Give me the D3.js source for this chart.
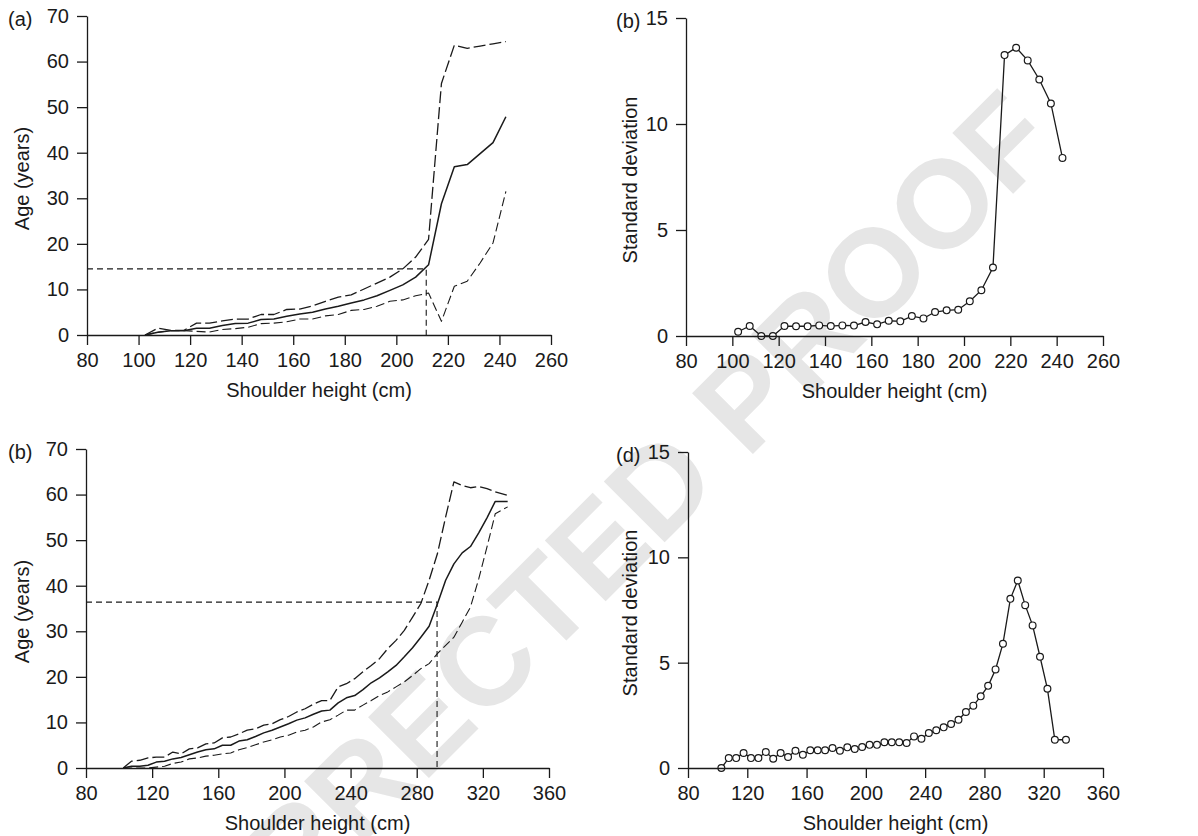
<!DOCTYPE html>
<html>
<head>
<meta charset="utf-8">
<script src="https://cdn.jsdelivr.net/npm/d3@7"></script>
<style>
	body { margin: 0; background: #fff; }
	svg { display: block; }
</style>
</head>
<body>
<script>
"use strict";

// shoulder height bins (cm) for the top row, (a) and (b)
var heightsTop = [102.5, 107.5, 112.5, 117.5, 122.5, 127.5, 132.5, 137.5, 142.5, 147.5,
	152.5, 157.5, 162.5, 167.5, 172.5, 177.5, 182.5, 187.5, 192.5, 197.5,
	202.5, 207.5, 212.5, 217.5, 222.5, 227.5, 232.5, 237.5, 242.5];

var ageMeanTop  = [0, 0.6, 0.95, 0.95, 1.5, 1.5, 2.1, 2.5, 2.6, 3.4,
	3.5, 4.1, 4.6, 5.0, 5.7, 6.3, 7.0, 7.7, 8.6, 9.8,
	11.0, 12.7, 15.4, 28.8, 36.9, 37.4, 39.8, 42.2, 47.9];
var ageUpperTop = [0, 1.5, 1.0, 1.0, 2.6, 2.6, 3.1, 3.5, 3.5, 4.5,
	4.5, 5.6, 5.7, 6.4, 7.4, 8.3, 8.8, 10.1, 11.4, 12.7,
	14.5, 17.1, 21.0, 55.2, 63.6, 62.9, 63.4, 63.9, 64.4];
var ageLowerTop = [0, 0.6, 0.95, 0.95, 0.8, 0.65, 1.2, 1.4, 1.7, 2.5,
	2.6, 2.9, 3.5, 3.5, 4.2, 4.5, 5.4, 5.6, 6.3, 7.4,
	7.7, 8.6, 9.2, 3.0, 10.7, 11.8, 15.8, 20.2, 31.5];
var sdTop = [0.2, 0.47, 0, 0, 0.47, 0.46, 0.46, 0.5, 0.47, 0.5,
	0.49, 0.66, 0.55, 0.72, 0.69, 0.94, 0.83, 1.13, 1.21, 1.24,
	1.64, 2.16, 3.23, 13.25, 13.6, 13.0, 12.1, 10.97, 8.4];
var refTop = [211.6, 14.5];   // [height, age] of the dashed read-off

// shoulder height bins (cm) for the bottom row, (b) and (d)
var heightsBottom = [102.5, 107.5, 112.5, 117.5, 122.5, 127.5, 132.5, 137.5, 142.5, 147.5,
	152.5, 157.5, 162.5, 167.5, 172.5, 177.5, 182.5, 187.5, 192.5, 197.5,
	202.5, 207.5, 212.5, 217.5, 222.5, 227.5, 232.5, 237.5, 242.5, 247.5,
	252.5, 257.5, 262.5, 267.5, 272.5, 277.5, 282.5, 287.5, 292.5, 297.5,
	302.5, 307.5, 312.5, 317.5, 322.5, 327.5, 335];

var ageMeanBottom  = [0, 0.4, 0.4, 0.6, 1.3, 1.5, 2.0, 2.3, 2.9, 3.5,
	4.0, 4.2, 5.0, 5.0, 5.9, 6.2, 6.9, 7.7, 8.3, 9.0,
	9.7, 10.5, 11.0, 11.8, 12.5, 12.7, 14.3, 15.4, 15.9, 17.2,
	18.7, 19.8, 21.1, 22.5, 24.4, 26.4, 28.7, 31.1, 36.0, 41.2,
	44.8, 47.2, 48.6, 51.6, 54.9, 58.5, 58.5];
var ageUpperBottom = [0, 1.5, 1.7, 2.2, 2.4, 2.4, 3.5, 3.1, 4.2, 4.4,
	5.3, 5.5, 6.6, 6.8, 7.5, 8.3, 8.6, 9.4, 9.7, 10.6,
	11.3, 12.3, 13.0, 14.0, 14.8, 14.8, 17.8, 18.5, 19.6, 21.1,
	22.5, 24.0, 26.2, 28.0, 30.2, 33.1, 36.1, 41.2, 47.0, 55.1,
	62.8, 62.0, 61.5, 61.8, 61.3, 60.6, 59.8];
var ageLowerBottom = [0, 0, 0, 0, 0.2, 0.4, 1.0, 1.3, 2.0, 2.2,
	2.6, 2.8, 3.1, 3.3, 4.0, 4.5, 5.1, 5.7, 6.2, 6.8,
	7.2, 7.9, 8.3, 9.0, 10.1, 10.6, 11.6, 12.7, 12.7, 13.8,
	14.8, 15.9, 16.7, 17.8, 18.9, 20.3, 21.8, 22.9, 25.1, 26.9,
	28.7, 32.0, 35.3, 41.5, 48.5, 55.8, 57.3];
var sdBottom = [0, 0.47, 0.47, 0.71, 0.47, 0.47, 0.76, 0.44, 0.71, 0.52,
	0.82, 0.63, 0.84, 0.84, 0.84, 0.95, 0.82, 0.98, 0.9, 1.0,
	1.1, 1.1, 1.22, 1.22, 1.22, 1.19, 1.5, 1.39, 1.66, 1.79,
	1.93, 2.09, 2.29, 2.66, 2.96, 3.4, 3.9, 4.68, 5.9, 8.03,
	8.9, 7.73, 6.77, 5.28, 3.76, 1.34, 1.34];
var refBottom = [292.3, 36.4];

// tick labels
var xTicksTop    = [80, 100, 120, 140, 160, 180, 200, 220, 240, 260];
var xTicksBottom = [80, 120, 160, 200, 240, 280, 320, 360];
var ageTicks     = [0, 10, 20, 30, 40, 50, 60, 70];
var sdTicks      = [0, 5, 10, 15];

var width = 1198, height = 836;
var fontFamily = "'Liberation Sans', Arial, Helvetica, sans-serif";
var ink = "#1a1a1a";

var svg = d3.select("body").append("svg")
	.attr("width", width)
	.attr("height", height)
	.style("font-family", fontFamily);

// light proof watermark behind everything (runs off the page, as in the proof)
svg.append("text")
	.attr("transform", "translate(612,595) rotate(-45)")
	.attr("text-anchor", "middle")
	.style("font-size", "125px")
	.style("font-weight", "bold")
	.style("fill", "#e6e6e6")
	.text("CORRECTED PROOF");

function makeAxes(g, p, x, y) {
	var xAxis = g.append("g")
		.attr("transform", "translate(0," + p.bottom + ")")
		.call(d3.axisBottom(x).tickValues(p.xTicks).tickSize(10).tickSizeOuter(0).tickPadding(8));
	var yAxis = g.append("g")
		.attr("transform", "translate(" + p.left + ",0)")
		.call(d3.axisLeft(y).tickValues(p.yTicks).tickSize(10).tickSizeOuter(0).tickPadding(8));

	[xAxis, yAxis].forEach(function(a) {
		a.select(".domain").attr("stroke", ink).attr("stroke-width", 1.3);
		a.selectAll(".tick line").attr("stroke", ink).attr("stroke-width", 1.3);
		a.selectAll(".tick text")
			.attr("fill", ink)
			.style("font-size", "20px")
			.style("font-family", fontFamily);
	});

	g.append("text")
		.attr("x", (p.left + p.right) / 2)
		.attr("y", p.bottom + 62)
		.attr("text-anchor", "middle")
		.style("font-size", "20px")
		.style("fill", ink)
		.text("Shoulder height (cm)");

	g.append("text")
		.attr("transform", "translate(" + p.titleX + "," + ((p.top + p.bottom) / 2 + 3) + ") rotate(-90)")
		.attr("text-anchor", "middle")
		.style("font-size", "20px")
		.style("fill", ink)
		.text(p.yTitle);

	g.append("text")
		.attr("x", p.labelX)
		.attr("y", p.top + 10)
		.style("font-size", "20px")
		.style("fill", ink)
		.text(p.label);
}

function drawAgePanel(p) {
	var x = d3.scaleLinear().domain([p.xTicks[0], p.xTicks[p.xTicks.length - 1]]).range([p.left, p.right]);
	var y = d3.scaleLinear().domain([0, 70]).range([p.bottom, p.top]);
	var g = svg.append("g");

	// read-off lines
	g.append("path")
		.attr("d", d3.line()([[x(p.xTicks[0]), y(p.ref[1])], [x(p.ref[0]), y(p.ref[1])], [x(p.ref[0]), y(0)]]))
		.attr("fill", "none")
		.attr("stroke", ink)
		.attr("stroke-width", 1.1)
		.attr("stroke-dasharray", "6,4");

	var line = d3.line()
		.x(function(d) { return x(d[0]); })
		.y(function(d) { return y(d[1]); });

	var series = [
		{ vals: p.upper, dash: "12,4", w: 1.3 },
		{ vals: p.lower, dash: "9,4", w: 1.1 },
		{ vals: p.mean, dash: null, w: 1.5 }
	];
	series.forEach(function(s) {
		g.append("path")
			.attr("d", line(d3.zip(p.heights, s.vals)))
			.attr("fill", "none")
			.attr("stroke", ink)
			.attr("stroke-width", s.w)
			.attr("stroke-linejoin", "round")
			.attr("stroke-dasharray", s.dash);
	});

	makeAxes(g, p, x, y);
}

function drawSdPanel(p) {
	var x = d3.scaleLinear().domain([p.xTicks[0], p.xTicks[p.xTicks.length - 1]]).range([p.left, p.right]);
	var y = d3.scaleLinear().domain([0, 15]).range([p.bottom, p.top]);
	var g = svg.append("g");
	var pts = d3.zip(p.heights, p.sd);

	g.append("path")
		.attr("d", d3.line().x(function(d) { return x(d[0]); }).y(function(d) { return y(d[1]); })(pts))
		.attr("fill", "none")
		.attr("stroke", ink)
		.attr("stroke-width", 1.3);

	g.selectAll("circle").data(pts).enter().append("circle")
		.attr("cx", function(d) { return x(d[0]); })
		.attr("cy", function(d) { return y(d[1]); })
		.attr("r", 3.4)
		.attr("fill", "#fff")
		.attr("stroke", ink)
		.attr("stroke-width", 1.2);

	makeAxes(g, p, x, y);
}

drawAgePanel({
	left: 87, right: 551, top: 16, bottom: 335,
	xTicks: xTicksTop, yTicks: ageTicks,
	heights: heightsTop, mean: ageMeanTop, upper: ageUpperTop, lower: ageLowerTop, ref: refTop,
	yTitle: "Age (years)", titleX: 29, label: "(a)", labelX: 8
});

drawSdPanel({
	left: 686, right: 1103, top: 18, bottom: 336,
	xTicks: xTicksTop, yTicks: sdTicks,
	heights: heightsTop, sd: sdTop,
	yTitle: "Standard deviation", titleX: 637, label: "(b)", labelX: 616
});

drawAgePanel({
	left: 86, right: 549, top: 449, bottom: 768,
	xTicks: xTicksBottom, yTicks: ageTicks,
	heights: heightsBottom, mean: ageMeanBottom, upper: ageUpperBottom, lower: ageLowerBottom, ref: refBottom,
	yTitle: "Age (years)", titleX: 29, label: "(b)", labelX: 8
});

drawSdPanel({
	left: 688, right: 1103, top: 452, bottom: 768,
	xTicks: xTicksBottom, yTicks: sdTicks,
	heights: heightsBottom, sd: sdBottom,
	yTitle: "Standard deviation", titleX: 637, label: "(d)", labelX: 616
});
</script>
</body>
</html>
